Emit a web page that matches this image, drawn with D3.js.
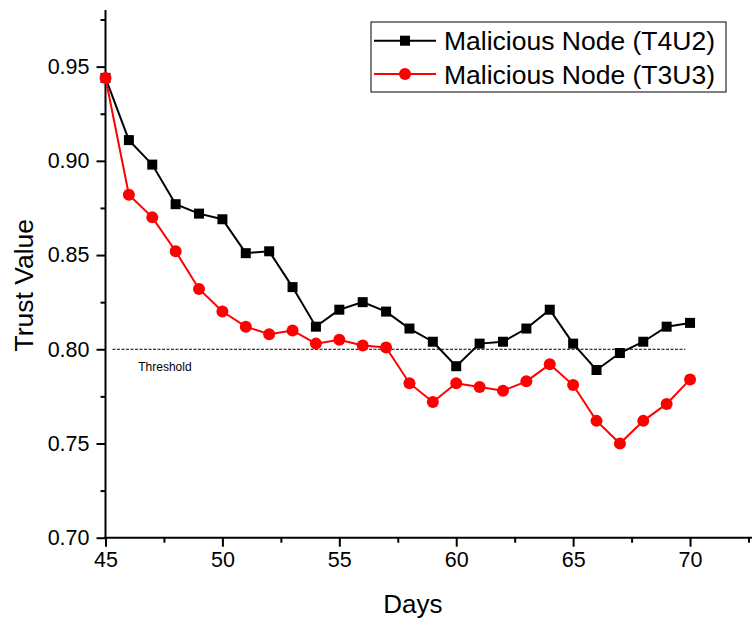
<!DOCTYPE html>
<html><head><meta charset="utf-8">
<script src="https://cdn.jsdelivr.net/npm/d3@7"></script>
<style>body{margin:0;background:#fff}svg{display:block;font-family:"Liberation Sans",Arial,sans-serif}</style>
</head><body><svg id="c" width="752" height="622"></svg>
<script>
const days = [45,46,47,48,49,50,51,52,53,54,55,56,57,58,59,60,61,62,63,64,65,66,67,68,69,70];
const t4u2 = [0.944,0.911,0.898,0.877,0.872,0.869,0.851,0.852,0.833,0.812,0.821,0.825,0.820,0.811,0.804,0.791,0.803,0.804,0.811,0.821,0.803,0.789,0.798,0.804,0.812,0.814];
const t3u3 = [0.944,0.882,0.870,0.852,0.832,0.820,0.812,0.808,0.810,0.803,0.805,0.802,0.801,0.782,0.772,0.782,0.780,0.778,0.783,0.792,0.781,0.762,0.750,0.762,0.771,0.784];
const xTicks = [45,50,55,60,65,70];
const yTicks = [0.70,0.75,0.80,0.85,0.90,0.95];
const xMinor = [47.5,52.5,57.5,62.5,67.5,72.5];
const yMinor = [0.725,0.775,0.825,0.875,0.925,0.975];
const threshold = 0.80;
const seriesNames = ["Malicious Node (T4U2)","Malicious Node (T3U3)"];

const svg = d3.select("#c");
const x = d3.scaleLinear().domain([45,72.65]).range([105.5,752]);
const y = d3.scaleLinear().domain([0.70,0.98]).range([537.7,10.1]);

// axes
const xAxis = svg.append("g").attr("transform","translate(0,537.7)")
  .call(d3.axisBottom(x).tickValues(xTicks).tickFormat(d3.format("d")).tickSize(9).tickPadding(5));
svg.append("g").attr("transform","translate(0,537.7)")
  .call(d3.axisBottom(x).tickValues(xMinor).tickFormat("").tickSize(5))
  .call(g=>g.select(".domain").remove());
const yAxis = svg.append("g").attr("transform","translate(105.5,0)")
  .call(d3.axisLeft(y).tickValues(yTicks).tickFormat(d3.format(".2f")).tickSize(9).tickPadding(7));
svg.append("g").attr("transform","translate(105.5,0)")
  .call(d3.axisLeft(y).tickValues(yMinor).tickFormat("").tickSize(5))
  .call(g=>g.select(".domain").remove());
svg.selectAll(".domain").attr("stroke","#000").attr("stroke-width",2).attr("d",function(){return d3.select(this).attr("d");});
// remove outer ticks from domain path: redraw plain lines
xAxis.select(".domain").remove();
yAxis.select(".domain").remove();
svg.append("line").attr("x1",104.5).attr("x2",752).attr("y1",537.7).attr("y2",537.7).attr("stroke","#000").attr("stroke-width",2);
svg.append("line").attr("x1",105.5).attr("x2",105.5).attr("y1",10.1).attr("y2",538.7).attr("stroke","#000").attr("stroke-width",2);
svg.selectAll(".tick line").attr("stroke","#000").attr("stroke-width",2);
svg.selectAll(".tick text").attr("fill","#000").attr("font-size",21.5).attr("font-family","'Liberation Sans',Arial,sans-serif");

// axis titles
svg.append("text").attr("x",x(58.15)).attr("y",613).attr("text-anchor","middle").attr("font-size",26).text("Days");
svg.append("text").attr("transform","translate(33,"+y(0.834)+") rotate(-90)").attr("text-anchor","middle").attr("font-size",26.5).text("Trust Value");

// threshold
svg.append("line").attr("x1",x(45.3)).attr("x2",x(69.8)).attr("y1",y(threshold)).attr("y2",y(threshold))
  .attr("stroke","#000").attr("stroke-width",1).attr("stroke-dasharray","3,1.5");
svg.append("text").attr("x",x(46.4)).attr("y",y(threshold)+22).attr("font-size",12).text("Threshold");

const line = d3.line().x((d,i)=>x(days[i])).y(d=>y(d));
// black series
svg.append("path").datum(t4u2).attr("d",line).attr("fill","none").attr("stroke","#000").attr("stroke-width",2);
svg.append("path").datum(t3u3).attr("d",line).attr("fill","none").attr("stroke","#ff0000").attr("stroke-width",2);
svg.selectAll(".sq").data(t4u2).enter().append("rect")
  .attr("x",(d,i)=>x(days[i])-5).attr("y",d=>y(d)-5).attr("width",10).attr("height",10).attr("fill","#000");
svg.selectAll(".ci").data(t3u3).enter().append("circle")
  .attr("cx",(d,i)=>x(days[i])).attr("cy",d=>y(d)).attr("r",6).attr("fill","#ff0000");

// legend
const lg = svg.append("g");
lg.append("rect").attr("x",371).attr("y",22).attr("width",355).attr("height",70).attr("fill","#fff").attr("stroke","#000").attr("stroke-width",1);
const rows = [40.7,74];
const cols = ["#000","#ff0000"];
rows.forEach((ry,i)=>{
  lg.append("line").attr("x1",374).attr("x2",436).attr("y1",ry).attr("y2",ry).attr("stroke",cols[i]).attr("stroke-width",2);
  if(i===0) lg.append("rect").attr("x",400).attr("y",ry-5).attr("width",10).attr("height",10).attr("fill","#000");
  else lg.append("circle").attr("cx",405).attr("cy",ry).attr("r",6).attr("fill","#ff0000");
  lg.append("text").attr("x",444).attr("y",ry+9.5).attr("font-size",26.5).text(seriesNames[i]);
});
</script></body></html>
